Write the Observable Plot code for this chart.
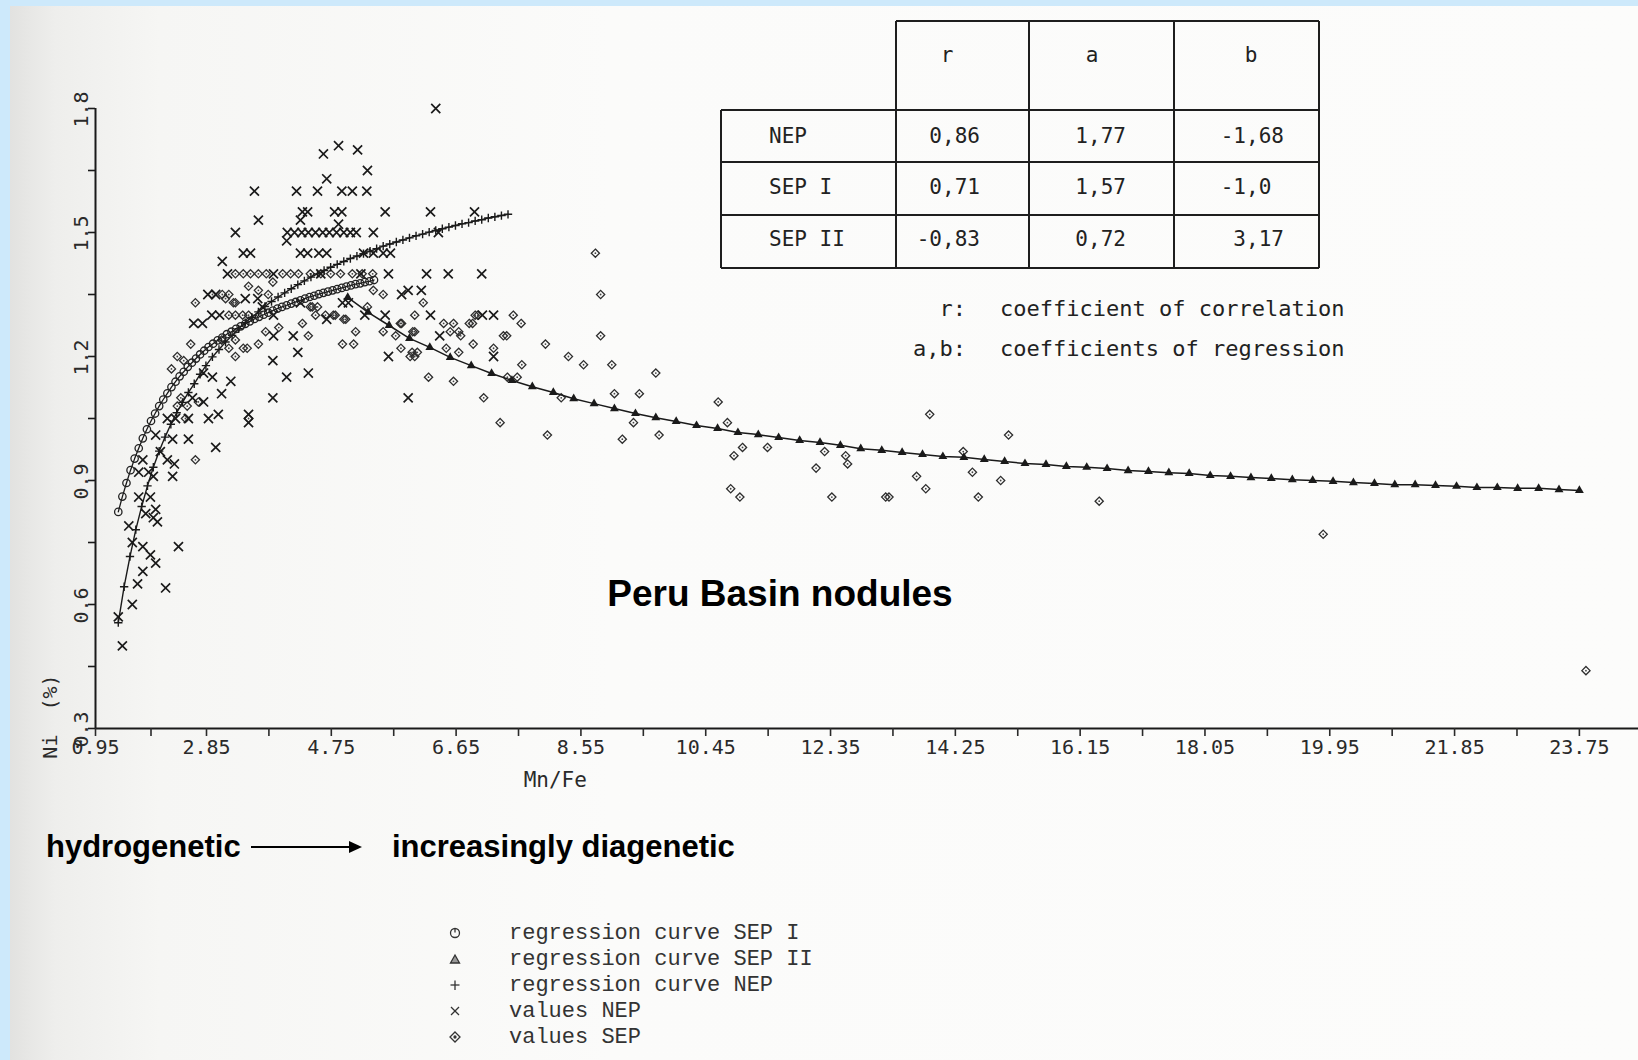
<!DOCTYPE html>
<html>
<head>
<meta charset="utf-8">
<script src="https://cdn.jsdelivr.net/npm/d3@7"></script>
<script src="https://cdn.jsdelivr.net/npm/@observablehq/plot@0.6"></script>
<style>
html,body{margin:0;padding:0;}
body{width:1638px;height:1060px;background:#cde9fb;position:relative;overflow:hidden;}
#paper{position:absolute;left:10px;top:6px;right:0;bottom:0;
  background:linear-gradient(to right,#e2e2e0 0px,#eeeeec 45px,#f6f6f4 150px,#fbfbfa 600px,#fcfcfb 100%);}
#chart{position:absolute;left:0;top:0;}
#overlay{position:absolute;left:0;top:0;pointer-events:none;}
</style>
</head>
<body>
<div id="paper"></div>
<div id="chart"></div>
<svg id="overlay" width="1638" height="1060"></svg>
<script>
// ---------- axis ticks ----------
const xMajor = [0.95, 2.85, 4.75, 6.65, 8.55, 10.45, 12.35, 14.25, 16.15, 18.05, 19.95, 21.85, 23.75];
const xMinor = [1.9, 3.8, 5.7, 7.6, 9.5, 11.4, 13.3, 15.2, 17.1, 19.0, 20.9, 22.8];
const yMajor = [0.3, 0.6, 0.9, 1.2, 1.5, 1.8];
const yMinor = [0.45, 0.75, 1.05, 1.35, 1.65];

// ---------- measured values NEP (Mn/Fe, Ni %) ----------
const nepValues = [
[6.34,1.80],[4.63,1.69],[4.86,1.71],[5.15,1.70],[5.30,1.65],[4.68,1.63],
[3.58,1.60],[4.22,1.60],[4.54,1.60],[4.91,1.60],[5.07,1.60],[5.29,1.60],
[4.31,1.55],[4.39,1.55],[4.80,1.55],[4.91,1.55],[5.57,1.55],[6.26,1.55],[6.93,1.55],
[3.64,1.53],[4.28,1.53],[4.86,1.52],
[3.29,1.50],[4.08,1.50],[4.19,1.50],[4.30,1.50],[4.40,1.50],[4.51,1.50],[4.62,1.50],[4.72,1.50],[4.83,1.50],[4.94,1.50],[5.04,1.50],[5.13,1.50],[5.39,1.50],[6.38,1.50],
[4.07,1.48],
[3.41,1.45],[3.52,1.45],[4.28,1.45],[4.39,1.45],[4.56,1.45],[4.68,1.45],[5.24,1.45],[5.39,1.45],[5.54,1.45],[5.65,1.45],
[3.09,1.43],
[3.17,1.40],[3.87,1.40],[4.59,1.40],[5.20,1.40],[5.62,1.40],[6.20,1.40],[6.53,1.40],[7.04,1.40],
[2.87,1.35],[2.99,1.35],[3.44,1.34],[3.63,1.34],[4.92,1.33],[5.01,1.33],[5.82,1.35],[5.92,1.36],[6.12,1.36],
[2.93,1.30],[3.05,1.30],[5.26,1.30],[5.57,1.30],[6.26,1.30],[7.05,1.30],[7.22,1.30],[3.87,1.30],[4.68,1.29],[3.70,1.32],[4.28,1.33],
[2.63,1.28],[2.78,1.28],
[3.87,1.25],[4.17,1.25],[6.40,1.25],
[4.24,1.21],[5.62,1.20],[7.22,1.20],[3.86,1.19],
[2.80,1.16],[2.94,1.15],[3.22,1.14],[4.07,1.15],[4.40,1.16],
[3.08,1.11],[2.61,1.10],[2.80,1.09],[3.86,1.10],[5.92,1.10],
[2.18,1.05],[2.32,1.05],[2.54,1.05],[2.88,1.05],[3.03,1.06],[3.49,1.06],[3.49,1.04],
[1.98,1.01],[2.27,1.00],[2.54,1.00],[2.99,0.98],
[2.06,0.97],[2.18,0.95],[2.30,0.94],[1.76,0.95],
[1.69,0.92],[1.86,0.92],[1.94,0.91],[2.27,0.91],
[1.69,0.86],[1.89,0.86],[1.98,0.83],[1.81,0.82],[1.94,0.81],[2.01,0.80],
[1.52,0.79],[1.58,0.75],[1.76,0.74],[2.37,0.74],[1.89,0.72],[1.98,0.70],
[1.76,0.68],[1.67,0.65],[2.15,0.64],[1.58,0.60],[1.34,0.57],[1.41,0.50]
];

// ---------- measured values SEP (Mn/Fe, Ni %) ----------
const sepValues = [
[3.29,1.40],[3.41,1.40],[3.52,1.40],[3.64,1.40],[3.76,1.40],[4.01,1.40],[4.13,1.40],[4.25,1.40],[4.43,1.40],[4.59,1.40],[4.74,1.40],[4.89,1.40],[5.07,1.40],[5.22,1.40],[5.38,1.40],
[2.66,1.33],[2.94,1.35],[3.09,1.35],[3.19,1.35],[3.29,1.33],[3.49,1.37],[3.64,1.36],[3.79,1.35],[3.86,1.38],
[3.19,1.30],[3.29,1.30],[3.40,1.30],[3.49,1.30],
[4.46,1.32],[4.51,1.30],[4.66,1.30],[4.81,1.30],[4.94,1.29],[4.31,1.28],[4.40,1.25],
[2.58,1.23],[2.35,1.20],[2.46,1.19],[2.25,1.17],
[3.08,1.24],[3.19,1.22],[3.29,1.24],[3.47,1.22],[3.64,1.23],[3.75,1.26],[3.95,1.27],[4.92,1.23],
[2.41,1.10],[2.71,1.09],[2.49,1.05],[3.49,1.05],[2.66,0.95],[2.35,1.08],[2.52,1.08],
[3.14,1.34],[3.26,1.33],
[5.39,1.36],[5.54,1.35],[6.15,1.33],
[4.43,1.32],[4.54,1.32],[4.78,1.30],[4.97,1.29],[5.12,1.26],[5.30,1.32],[5.54,1.26],[5.82,1.28],[5.99,1.26],
[6.46,1.28],[6.61,1.28],[6.56,1.26],[6.72,1.25],[6.90,1.28],[6.98,1.30],[7.37,1.25],[7.52,1.30],
[6.06,1.21],[5.95,1.20],[5.09,1.23],[3.41,1.22],[3.29,1.20],
[6.23,1.15],[6.61,1.14],[7.43,1.15],[6.91,1.23],[7.22,1.22],
[8.77,1.45],[8.85,1.35],
[6.02,1.30],[6.94,1.30],[7.64,1.28],[6.69,1.26],[6.85,1.28],[5.73,1.25],[5.80,1.28],[6.02,1.26],[7.42,1.25],[8.85,1.25],
[6.69,1.21],[6.50,1.22],[5.81,1.22],[5.98,1.21],[6.02,1.20],
[8.01,1.23],[8.36,1.20],[8.59,1.18],[7.65,1.18],[9.02,1.18],[9.69,1.16],[7.58,1.15],
[7.07,1.10],[8.25,1.10],[9.06,1.11],[9.44,1.11],
[9.35,1.04],[9.74,1.01],[9.18,1.00],[8.04,1.01],[7.32,1.04],
[10.64,1.09],[10.78,1.04],[10.88,0.96],[11.01,0.98],[11.39,0.98],[10.83,0.88],[10.97,0.86],
[12.26,0.97],[12.13,0.93],[12.58,0.96],[12.61,0.94],[12.37,0.86],[13.19,0.86],[13.24,0.86],
[13.86,1.06],[13.66,0.91],[13.80,0.88],[14.37,0.97],[14.51,0.92],[14.60,0.86],[14.94,0.90],[15.06,1.01],
[16.44,0.85],[19.85,0.77],[23.85,0.44]
];

// ---------- regression curves ----------
const nepCurveX = [1.34,1.44,1.54,1.64,1.74,1.84,1.94,2.04,2.14,2.24,2.34,2.44,2.54,2.64,2.74,2.84,2.94,3.04,3.14,3.24,3.34,3.44,3.54,3.64,3.74,3.84,3.94,4.04,4.14,4.24,4.34,4.44,4.54,4.64,4.74,4.84,4.94,5.04,5.14,5.24,5.34,5.44,5.54,5.64,5.74,5.84,5.94,6.04,6.14,6.24,6.34,6.44,6.54,6.64,6.74,6.84,6.94,7.04,7.14,7.24,7.34,7.44];
const nepCurveY = [0.556,0.643,0.716,0.781,0.837,0.887,0.932,0.971,1.005,1.036,1.064,1.089,1.113,1.134,1.157,1.178,1.199,1.217,1.235,1.251,1.267,1.282,1.295,1.308,1.321,1.333,1.344,1.354,1.364,1.374,1.383,1.392,1.400,1.408,1.416,1.423,1.430,1.437,1.443,1.449,1.455,1.461,1.467,1.472,1.477,1.482,1.487,1.492,1.496,1.501,1.505,1.509,1.513,1.517,1.521,1.524,1.528,1.531,1.535,1.538,1.541,1.544];

const sep1CurveX = [1.34,1.41,1.48,1.55,1.62,1.69,1.76,1.83,1.90,1.97,2.04,2.11,2.18,2.25,2.32,2.39,2.46,2.53,2.60,2.67,2.74,2.81,2.88,2.95,3.02,3.09,3.16,3.23,3.30,3.37,3.44,3.51,3.58,3.65,3.72,3.79,3.86,3.93,4.00,4.07,4.14,4.21,4.28,4.35,4.42,4.49,4.56,4.63,4.70,4.77,4.84,4.91,4.98,5.05,5.12,5.19,5.26,5.33,5.40];
const sep1CurveY = [0.824,0.861,0.894,0.925,0.953,0.978,1.002,1.024,1.044,1.062,1.080,1.096,1.111,1.126,1.139,1.152,1.163,1.175,1.185,1.195,1.205,1.214,1.223,1.231,1.239,1.246,1.254,1.260,1.267,1.273,1.279,1.285,1.291,1.296,1.301,1.306,1.311,1.316,1.320,1.324,1.328,1.332,1.336,1.340,1.344,1.347,1.351,1.354,1.357,1.360,1.363,1.366,1.369,1.372,1.375,1.377,1.380,1.382,1.385];

const sep2CurveX = [5.0,5.31,5.63,5.94,6.25,6.56,6.88,7.19,7.5,7.81,8.13,8.44,8.75,9.06,9.38,9.69,10.0,10.31,10.63,10.94,11.25,11.56,11.88,12.19,12.5,12.81,13.13,13.44,13.75,14.06,14.38,14.69,15.0,15.31,15.63,15.94,16.25,16.56,16.88,17.19,17.5,17.81,18.13,18.44,18.75,19.06,19.38,19.69,20.0,20.31,20.63,20.94,21.25,21.56,21.88,22.19,22.5,22.81,23.13,23.44,23.75];
const sep2CurveY = [1.343,1.307,1.275,1.244,1.222,1.198,1.178,1.159,1.142,1.127,1.113,1.098,1.086,1.074,1.062,1.052,1.043,1.033,1.026,1.016,1.011,1.004,0.997,0.992,0.985,0.977,0.973,0.968,0.963,0.958,0.956,0.951,0.946,0.941,0.939,0.934,0.932,0.929,0.924,0.922,0.919,0.917,0.912,0.910,0.907,0.905,0.902,0.900,0.898,0.895,0.893,0.890,0.890,0.888,0.886,0.883,0.883,0.881,0.881,0.878,0.876];

// ---------- table & texts ----------
const tableCols = ["r", "a", "b"];
const tableRows = ["NEP", "SEP I", "SEP II"];
const colR = ["0,86", "0,71", "-0,83"];
const colA = ["1,77", "1,57", "0,72"];
const colB = ["-1,68", "-1,0", "3,17"];
const keyTerms = ["r:", "a,b:"];
const keyTexts = ["coefficient of correlation", "coefficients of regression"];
const legendLabels = ["regression curve SEP I", "regression curve SEP II", "regression curve NEP", "values NEP", "values SEP"];

const ink = "#1a1a1a";
const mono = "DejaVu Sans Mono";

const chart = Plot.plot({
  width: 1638, height: 800,
  marginLeft: 95, marginRight: 0, marginTop: 108, marginBottom: 72,
  style: {background: "transparent", overflow: "visible", fontFamily: mono, fontSize: "20px", color: ink},
  x: {type: "linear", domain: [0.95, 2.85, 24.65], range: [95, 206, 1638]},
  y: {type: "linear", domain: [0.3, 1.8], range: [728, 108]},
  marks: [
    Plot.ruleY([0.3], {x1: 0.95, x2: 24.65, stroke: ink, strokeWidth: 2}),
    Plot.ruleX([0.95], {y1: 0.3, y2: 1.8, stroke: ink, strokeWidth: 2}),
    Plot.axisX([...xMajor, ...xMinor], {tickSize: 8, tickPadding: 3, strokeWidth: 1.6, fontSize: 20,
      tickFormat: d => xMajor.includes(d) ? d.toFixed(2) : "", label: null, color: "#2a2a2a"}),
    Plot.axisY([...yMajor, ...yMinor], {tickSize: 7, strokeWidth: 1.6, tickFormat: () => "", label: null}),
    Plot.text(yMajor, {x: 0.95, y: d => d, text: d => d.toFixed(1), rotate: -90, dx: -14, dy: 1, fontSize: 20, fill: "#2a2a2a"}),
    Plot.text(["Ni  (%)"], {x: 0.95, y: 0.3, text: d => d, rotate: -90, dx: -45, dy: -12, fontSize: 20, fill: "#2a2a2a"}),
    Plot.text(["Mn/Fe"], {x: 8.16, y: 0.3, text: d => d, dy: 52, fontSize: 21, fill: "#2a2a2a"}),
    // measured values
    Plot.dot(sepValues, {x: d => d[0], y: d => d[1], symbol: "diamond2", r: 3.7, stroke: "#2e2e2e", strokeWidth: 1.3, fill: "none"}),
    Plot.dot(sepValues, {x: d => d[0], y: d => d[1], r: 0.9, fill: "#444", stroke: "none"}),
    Plot.dot(nepValues, {x: d => d[0], y: d => d[1], symbol: "times", r: 4.2, stroke: ink, strokeWidth: 1.7}),
    // regression curves
    Plot.line(nepCurveX, {x: d => d, y: (d, i) => nepCurveY[i], stroke: ink, strokeWidth: 1.4}),
    Plot.dot(nepCurveX, {x: d => d, y: (d, i) => nepCurveY[i], symbol: "plus", r: 2.8, stroke: ink, strokeWidth: 1.4}),
    Plot.line(sep1CurveX, {x: d => d, y: (d, i) => sep1CurveY[i], stroke: ink, strokeWidth: 1.3}),
    Plot.dot(sep1CurveX, {x: d => d, y: (d, i) => sep1CurveY[i], symbol: "circle", r: 3.7, stroke: "#222", strokeWidth: 1.3, fill: "none"}),
    Plot.line(sep2CurveX, {x: d => d, y: (d, i) => sep2CurveY[i], stroke: ink, strokeWidth: 1.5}),
    Plot.dot(sep2CurveX, {x: d => d, y: (d, i) => sep2CurveY[i], symbol: "triangle", r: 3.3, fill: ink, stroke: "none"})
  ]
});
document.getElementById("chart").appendChild(chart);

// ---------- overlay: table, key, annotations, legend ----------
const ov = d3.select("#overlay");
function txt(s, x, y, o = {}) {
  return ov.append("text").attr("x", x).attr("y", y).attr("dominant-baseline", "central")
    .attr("text-anchor", o.anchor || "start").attr("font-family", o.font || mono)
    .attr("font-size", o.size || 21).attr("font-weight", o.weight || "normal")
    .attr("fill", o.fill || "#222").attr("xml:space", "preserve").style("white-space", "pre").text(s);
}
function line(x1, y1, x2, y2, w = 2, c = "#1e1e1e") {
  ov.append("line").attr("x1", x1).attr("y1", y1).attr("x2", x2).attr("y2", y2).attr("stroke", c).attr("stroke-width", w);
}
// table grid
const colX = [896, 1029, 1174, 1319];
const rowY = [110, 162, 215, 268];
line(896, 21, 1319, 21);
rowY.forEach(y => line(721, y, 1319, y));
line(721, 110, 721, 268);
colX.forEach(x => line(x, 21, x, 268));
// header
const headX = [947, 1092, 1251];
tableCols.forEach((c, i) => txt(c, headX[i], 55, {anchor: "middle"}));
const rowCY = [136, 187, 239];
const cw = 0.602 * 21;
tableRows.forEach((r, i) => {
  txt(r, 769, rowCY[i]);
  [[colR, 942], [colA, 1088], [colB, 1246]].forEach(([col, comma]) => {
    const s = col[i];
    txt(s, comma - s.indexOf(",") * cw, rowCY[i]);
  });
});
// key
const keyY = [308, 348];
keyTerms.forEach((k, i) => {
  txt(k, 966, keyY[i], {anchor: "end", size: 22});
  txt(keyTexts[i], 1000, keyY[i], {size: 22});
});
// annotations
txt("Peru Basin nodules", 780, 593, {anchor: "middle", font: "Liberation Sans", weight: "bold", size: 37, fill: "#000"});
txt("hydrogenetic", 46, 846, {font: "Liberation Sans", weight: "bold", size: 31, fill: "#000"});
line(251, 847, 352, 847, 2, "#000");
ov.append("polygon").attr("points", "349,841 362,847 349,853").attr("fill", "#000");
txt("increasingly diagenetic", 392, 846, {font: "Liberation Sans", weight: "bold", size: 31, fill: "#000"});
// legend
const legY = [933, 959, 985, 1011, 1037];
const sx = 455;
legendLabels.forEach((l, i) => txt(l, 509, legY[i], {font: "Liberation Mono", size: 22, fill: "#333"}));
const g = ov.append("g").attr("stroke", "#333").attr("stroke-width", 1.3).attr("fill", "none");
g.append("circle").attr("cx", sx).attr("cy", legY[0]).attr("r", 4.5);
g.append("line").attr("x1", sx).attr("y1", legY[0] - 4.5).attr("x2", sx).attr("y2", legY[0] - 0.5);
g.append("polygon").attr("points", `${sx - 4.5},${legY[1] + 4} ${sx + 4.5},${legY[1] + 4} ${sx},${legY[1] - 4}`).attr("fill", "#999");
g.append("line").attr("x1", sx - 4.5).attr("y1", legY[2]).attr("x2", sx + 4.5).attr("y2", legY[2]);
g.append("line").attr("x1", sx).attr("y1", legY[2] - 4.5).attr("x2", sx).attr("y2", legY[2] + 5);
g.append("line").attr("x1", sx - 4).attr("y1", legY[3] - 4).attr("x2", sx + 4).attr("y2", legY[3] + 4);
g.append("line").attr("x1", sx - 4).attr("y1", legY[3] + 4).attr("x2", sx + 4).attr("y2", legY[3] - 4);
g.append("polygon").attr("points", `${sx},${legY[4] - 5} ${sx + 5},${legY[4]} ${sx},${legY[4] + 5} ${sx - 5},${legY[4]}`);
g.append("circle").attr("cx", sx).attr("cy", legY[4]).attr("r", 1).attr("fill", "#333");
</script>
</body>
</html>
